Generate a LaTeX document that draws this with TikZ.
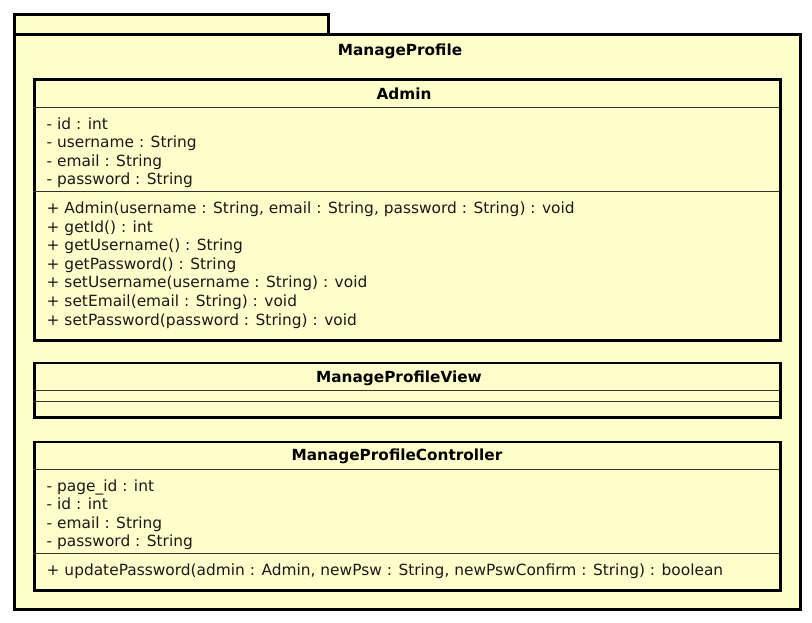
\documentclass[tikz,border=0pt]{standalone}
\usepackage{fontspec}
\setmainfont{DejaVu Sans}
\definecolor{umlfill}{HTML}{FFFFCC}
\definecolor{sepcol}{HTML}{333333}
\begin{document}
\begin{tikzpicture}[x=1pt,y=-1pt,
  frame/.style={draw=black,line width=2.6pt,fill=umlfill,rectangle,inner sep=0pt,anchor=north west},
  sep/.style={draw=sepcol,line width=1pt},
  txt/.style={anchor=base west,inner sep=0pt,text=black!90,font=\fontsize{15.4}{18}\selectfont},
  ttl/.style={anchor=base,inner sep=0pt,font=\fontsize{15.3}{18}\selectfont\bfseries}]
\useasboundingbox (0,0) rectangle (812,622);
% package
\node[frame,minimum width=314pt,minimum height=20pt] (tab) at (13,13) {};
\node[frame,minimum width=786pt,minimum height=575pt] (pkg) at (13,33) {};
\node[ttl] (pkgname) at (400,55.5) {ManageProfile};
% Admin
\node[frame,minimum width=746pt,minimum height=261pt] (admin) at (33,78) {};
\node[ttl] (adminname) at (404,99) {Admin};
\coordinate (a1l) at (33,107.3); \coordinate (a1r) at (779,107.3);
\coordinate (a2l) at (33,191.5); \coordinate (a2r) at (779,191.5);
\draw[sep] (a1l) -- (a1r);
\draw[sep] (a2l) -- (a2r);
\node[txt] (aa1) at (46.5,129) {- id : int};
\node[txt] (aa2) at (46.5,147.6) {- username : String};
\node[txt] (aa3) at (46.5,166.2) {- email : String};
\node[txt] (aa4) at (46.5,184.8) {- password : String};
\node[txt] (am1) at (46.5,213.4) {+ Admin(username : String, email : String, password : String) : void};
\node[txt] (am2) at (46.5,232) {+ getId() : int};
\node[txt] (am3) at (46.5,250.6) {+ getUsername() : String};
\node[txt] (am4) at (46.5,269.2) {+ getPassword() : String};
\node[txt] (am5) at (46.5,287.8) {+ setUsername(username : String) : void};
\node[txt] (am6) at (46.5,306.4) {+ setEmail(email : String) : void};
\node[txt] (am7) at (46.5,325) {+ setPassword(password : String) : void};
% ManageProfileView
\node[frame,minimum width=746pt,minimum height=54.5pt] (view) at (33,361.5) {};
\node[ttl] (viewname) at (399,382.5) {ManageProfileView};
\coordinate (v1l) at (33,390.7); \coordinate (v1r) at (779,390.7);
\coordinate (v2l) at (33,401.3); \coordinate (v2r) at (779,401.3);
\draw[sep] (v1l) -- (v1r);
\draw[sep] (v2l) -- (v2r);
% ManageProfileController
\node[frame,minimum width=746pt,minimum height=148.5pt] (ctrl) at (33,440.5) {};
\node[ttl] (ctrlname) at (397,460.5) {ManageProfileController};
\coordinate (c1l) at (33,469.3); \coordinate (c1r) at (779,469.3);
\coordinate (c2l) at (33,553.8); \coordinate (c2r) at (779,553.8);
\draw[sep] (c1l) -- (c1r);
\draw[sep] (c2l) -- (c2r);
\node[txt] (ca1) at (46.5,491) {- page\_id : int};
\node[txt] (ca2) at (46.5,509.6) {- id : int};
\node[txt] (ca3) at (46.5,528.2) {- email : String};
\node[txt] (ca4) at (46.5,546.8) {- password : String};
\node[txt] (cm1) at (46.5,575.6) {+ updatePassword(admin : Admin, newPsw : String, newPswConfirm : String) : boolean};
\end{tikzpicture}
\end{document}
